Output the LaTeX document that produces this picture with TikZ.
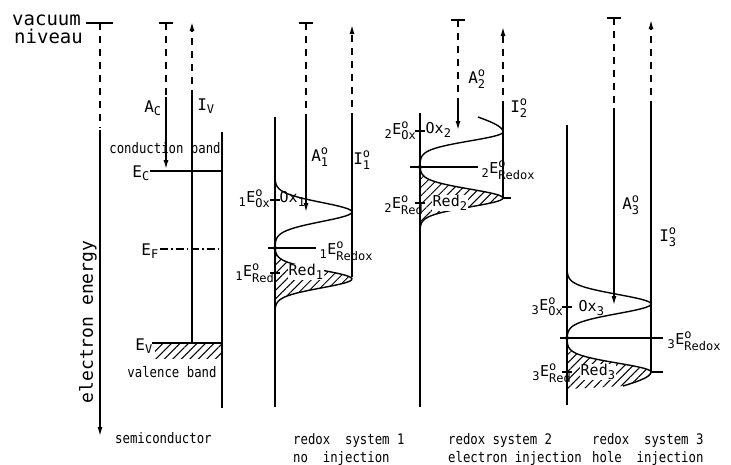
\documentclass[tikz,border=0pt]{standalone}
\usepackage{amsmath}
\usepackage{fontspec}
\setmainfont[FakeStretch=0.85]{DejaVu Sans Mono}
\newfontfamily\widefont{DejaVu Sans Mono}
\usepackage{tikz}
\usetikzlibrary{arrows.meta, patterns.meta}
\DeclareMathSizes{15}{15}{12}{9}
\DeclareMathSizes{16}{16}{12}{9}
\newcommand{\Elev}[2]{${}_{\text{#1}}\text{E}^{\text{o}}_{\text{#2}}$}
\tikzset{
    % Line styles
    bandline/.style={line width=1.4pt, black},
    levelline/.style={line width=2.2pt, black},
    vacdash/.style={line width=1.4pt, dash pattern=on 7pt off 6pt},
    fermidash/.style={line width=1.4pt, dash pattern=on 8pt off 3pt on 1.5pt off 3pt},
    % Arrow styles
    energyarrow/.style={-{Latex[length=9pt,width=5pt]}, line width=1.4pt},
    dashedarrow/.style={-{Latex[length=9pt,width=5pt]}, vacdash},
    % Hatching
    hatched/.style={pattern={Lines[angle=45,distance=6pt,line width=1pt]}},
    % Text styles
    smalltext/.style={inner sep=0pt, font=\fontsize{14.5}{17}\selectfont},
    bigtext/.style={inner sep=0pt, font=\widefont\fontsize{19}{22}\selectfont},
    levellabel/.style={inner sep=0.5pt, font=\widefont\fontsize{15}{18}\selectfont},
    arrowlabel/.style={inner sep=0pt, font=\widefont\fontsize{16}{18}\selectfont}
}

\begin{document}
\begin{tikzpicture}[x=1pt, y=-1pt,
        declare function={gauss(\t,\c,\s)=exp(-((\t-\c)/\s)*((\t-\c)/\s));},
        dot/.style={circle, fill=black, inner sep=0pt, minimum size=4pt}
    ]
    \useasboundingbox (0,0) rectangle (731,464);

    % vacuum level and energy axis
    \node[bigtext, anchor=base west] (vac1) at (12,25) {vacuum};
    \node[bigtext, anchor=base west] (vac2) at (14,43) {niveau};
    \draw[bandline] (86,23) -- (113,23);
    \draw[vacdash] (100,23) -- (100,128);
    \draw[energyarrow] (100,130) -- (100,436);
    \node[bigtext, font=\widefont\fontsize{18}{20}\selectfont, rotate=90] (axis) at (88,322) {electron energy};

    % semiconductor
    \draw[bandline] (159,23) -- (173,23);
    \draw[vacdash] (166,23) -- (166,97);
    \draw[energyarrow] (166,97) -- (166,169);
    \draw[bandline] (192,343) -- (192,97);
    \draw[dashedarrow] (192,97) -- (192,22);
    \node[arrowlabel] (ac) at (153,108) {$\text{A}_{\text{C}}$};
    \node[arrowlabel] (iv) at (206,106) {$\text{I}_{\text{V}}$};
    \draw[bandline] (222,132) -- (222,408);
    \node[smalltext] (cb) at (165,148) {conduction band};
    \draw[levelline] (150,171) -- (222,171);
    \node[arrowlabel, anchor=east] (ec) at (150,173) {$\text{E}_{\text{C}}$};
    \draw[fermidash] (160,249) -- (222,249);
    \node[arrowlabel, anchor=east] (ef) at (159,251) {$\text{E}_{\text{F}}$};
    \fill[hatched] (155,344) rectangle (222,358);
    \draw[levelline] (152,343) -- (222,343);
    \node[arrowlabel, anchor=east] (ev) at (153,346) {$\text{E}_{\text{V}}$};
    \node[smalltext] (vb) at (172,372) {valence band};
    \node[smalltext, anchor=base west] (sc) at (115,443) {semiconductor};

    % redox system 1
    \draw[bandline] (275,117) -- (275,407);
    \draw[bandline] (299,23) -- (313,23);
    \draw[vacdash] (306,23) -- (306,118);
    \draw[energyarrow] (306,118) -- (306,212);
    \draw[bandline] (352,277) -- (352,120);
    \draw[dashedarrow] (352,120) -- (352,25);
    \fill[hatched] (275,248) -- plot[domain=248:313, samples=50, variable=\t] ({275+77*gauss(\t,279,12.5)}, \t) -- cycle;
    \draw[bandline] plot[domain=177:248, samples=50, variable=\t] ({275+77*gauss(\t,212,13.5)}, \t);
    \draw[bandline] plot[domain=248:313, samples=50, variable=\t] ({275+77*gauss(\t,279,12.5)}, \t);
    \draw[bandline] (268,248) -- (316,248);
    \node[dot] (rdx1) at (275,248) {};
    \draw[bandline] (270,200) -- (280,200);
    \draw[bandline] (270,273) -- (280,273);
    \node[arrowlabel] (a1) at (320,157) {$\text{A}^{\text{o}}_{\text{1}}$};
    \node[arrowlabel] (i1) at (362,160) {$\text{I}^{\text{o}}_{\text{1}}$};
    \node[levellabel, anchor=east] (eox1) at (271,199) {\Elev{1}{Ox}};
    \node[levellabel, anchor=west] (ox1) at (279,199) {$\text{Ox}_{\text{1}}$};
    \node[levellabel, anchor=west] (eredox1) at (319,251) {\Elev{1}{Redox}};
    \node[levellabel, anchor=east] (ered1) at (275,273) {\Elev{1}{Red}};
    \node[levellabel, anchor=west, fill=white] (red1) at (288,272) {$\text{Red}_{\text{1}}$};

    % redox system 2
    \draw[bandline] (420,113) -- (420,407);
    \draw[bandline] (451,20) -- (465,20);
    \draw[vacdash] (458,20) -- (458,103);
    \draw[energyarrow] (458,103) -- (458,130);
    \draw[bandline] (503,198) -- (503,108);
    \draw[dashedarrow] (503,108) -- (503,27);
    \fill[hatched] (420,167) -- plot[domain=167:232, samples=50, variable=\t] ({420+83*gauss(\t,198,12.5)}, \t) -- cycle;
    \draw[bandline] plot[domain=117:132, samples=20, variable=\t] ({420+83*gauss(\t,132,25)}, \t)
        -- plot[domain=132:167, samples=40, variable=\t] ({420+83*gauss(\t,132,12.5)}, \t);
    \draw[bandline] plot[domain=167:232, samples=50, variable=\t] ({420+83*gauss(\t,198,12.5)}, \t);
    \draw[bandline] (410,167) -- (478,167);
    \node[dot] (rdx2) at (420,167) {};
    \draw[bandline] (503,198) -- (511,198);
    \draw[bandline] (415,131) -- (425,131);
    \draw[bandline] (415,203) -- (425,203);
    \node[arrowlabel] (a2) at (477,79) {$\text{A}^{\text{o}}_{\text{2}}$};
    \node[arrowlabel] (i2) at (519,108) {$\text{I}^{\text{o}}_{\text{2}}$};
    \node[levellabel, anchor=east] (eox2) at (417,131) {\Elev{2}{Ox}};
    \node[levellabel, anchor=west] (ox2) at (425,130) {$\text{Ox}_{\text{2}}$};
    \node[levellabel, anchor=west] (eredox2) at (481,170) {\Elev{2}{Redox}};
    \node[levellabel, anchor=east] (ered2) at (424,205) {\Elev{2}{Red}};
    \node[levellabel, anchor=west, fill=white] (red2) at (432,203) {$\text{Red}_{\text{2}}$};

    % redox system 3
    \draw[bandline] (567,125) -- (567,405);
    \draw[bandline] (607,18) -- (621,18);
    \draw[vacdash] (614,18) -- (614,108);
    \draw[energyarrow] (614,108) -- (614,305);
    \draw[bandline] (651,372) -- (651,108);
    \draw[dashedarrow] (651,108) -- (651,20);
    \fill[hatched] (567,338) -- plot[domain=338:372, samples=40, variable=\t] ({567+84*gauss(\t,372,12.5)}, \t)
        -- plot[domain=372:386, samples=20, variable=\t] ({567+84*gauss(\t,372,22)}, \t) -- (567,389) -- cycle;
    \draw[bandline] plot[domain=267:338, samples=50, variable=\t] ({567+84*gauss(\t,304,13.5)}, \t);
    \draw[bandline] plot[domain=338:372, samples=40, variable=\t] ({567+84*gauss(\t,372,12.5)}, \t)
        -- plot[domain=372:386, samples=20, variable=\t] ({567+84*gauss(\t,372,22)}, \t);
    \draw[bandline] (560,338) -- (663,338);
    \node[dot] (rdx3) at (567,338) {};
    \draw[bandline] (651,372) -- (663,372);
    \draw[bandline] (562,307) -- (572,307);
    \draw[bandline] (562,372) -- (572,372);
    \node[arrowlabel] (a3) at (631,205) {$\text{A}^{\text{o}}_{\text{3}}$};
    \node[arrowlabel] (i3) at (668,237) {$\text{I}^{\text{o}}_{\text{3}}$};
    \node[levellabel, anchor=east] (eox3) at (564,307) {\Elev{3}{Ox}};
    \node[levellabel, anchor=west] (ox3) at (578,308) {$\text{Ox}_{\text{3}}$};
    \node[levellabel, anchor=west] (eredox3) at (667,341) {\Elev{3}{Redox}};
    \node[levellabel, anchor=east] (ered3) at (572,373) {\Elev{3}{Red}};
    \node[levellabel, anchor=west, fill=white] (red3) at (580,372) {$\text{Red}_{\text{3}}$};

    % captions
    \node[smalltext, anchor=base west] (cap1a) at (293,444) {redox~ system 1};
    \node[smalltext, anchor=base west] (cap1b) at (293,462) {no~ injection};
    \node[smalltext, anchor=base west] (cap2a) at (448,444) {redox system 2};
    \node[smalltext, anchor=base west] (cap2b) at (448,462) {electron injection};
    \node[smalltext, anchor=base west] (cap3a) at (592,444) {redox~ system 3};
    \node[smalltext, anchor=base west] (cap3b) at (592,462) {hole~ injection};
\end{tikzpicture}
\end{document}
